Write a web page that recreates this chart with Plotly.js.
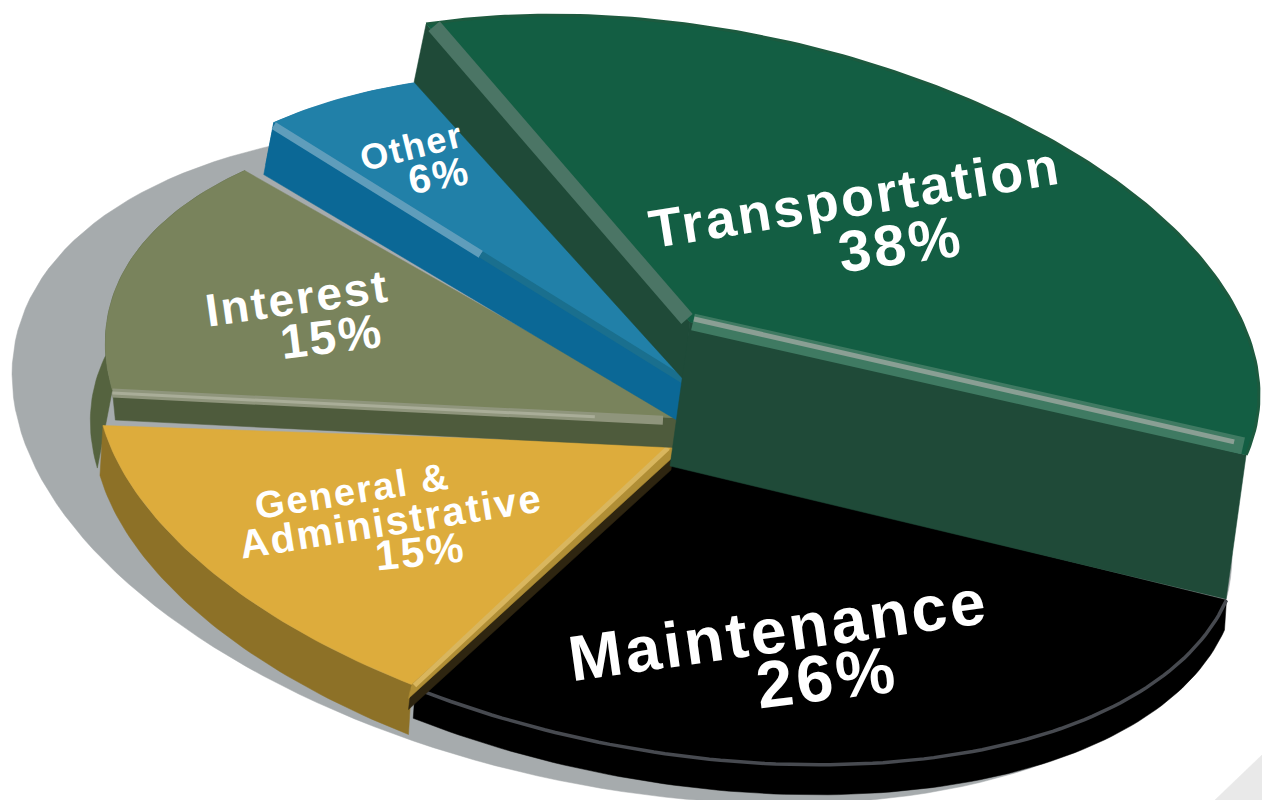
<!DOCTYPE html>
<html><head><meta charset="utf-8">
<script src="https://cdn.plot.ly/plotly-3.0.1.min.js"></script>
<style>html,body{margin:0;padding:0;background:#fff}.annotation-text{letter-spacing:.05em}</style></head>
<body><div id="chart" style="width:1262px;height:800px"></div>
<script>
// ---- data ----
const categories = ["Transportation","Maintenance","General & Administrative","Interest","Other"];
const values = [38,26,15,15,6];
// ---- view of the tilted disc ----
const center=[668,402], axisA=[558,80], axisB=[0,289];
const persK=1.12, persDir=62, startAngle=240.3;
// per slice: explode offset, apex position relative to the exploded centre, rim scale
const explode=[[33,-87],[-3,54],[-14,57],[2,22],[26,-29]];
const apexNudge=[[-11,7],[0,6],[20,-14],[10,-6],[-6,7]];
const rimScale=[1,1.03,1,1.012,1];
const rad=Math.PI/180;
function warp(phi){
  const x=(phi-persDir)*rad/2, n=Math.round(x/Math.PI);
  return persDir+2*(Math.atan(persK*Math.tan(x-n*Math.PI))+n*Math.PI)/rad;
}
function rim(phi,e,k){
  const t=warp(phi)*rad, c=Math.cos(t)*k, s=Math.sin(t)*k;
  return [center[0]+e[0]+axisA[0]*c+axisB[0]*s, center[1]+e[1]+axisA[1]*c+axisB[1]*s];
}
const total=values.reduce((a,b)=>a+b,0);
let acc=startAngle;
const slices=values.map((v,i)=>{
  const a0=acc,a1=acc+v/total*360; acc=a1;
  const arc=[]; for(let p=a0;p<a1;p+=1)arc.push(rim(p,explode[i],rimScale[i])); arc.push(rim(a1,explode[i],rimScale[i]));
  const apex=[center[0]+explode[i][0]+apexNudge[i][0],center[1]+explode[i][1]+apexNudge[i][1]];
  return {arc,apex,first:arc[0],last:arc[arc.length-1]};
});
const [T,M,G,I,O]=slices;
const shift=(pts,h)=>pts.map(p=>[p[0]+h[0],p[1]+h[1]]);
const mix=(a,b,f)=>[a[0]*(1-f)+b[0]*f,a[1]*(1-f)+b[1]*f];
const traces=[];
function poly(pts,color,name){
  traces.push({type:"scatter",mode:"lines",x:pts.map(p=>p[0]).concat(pts[0][0]),y:pts.map(p=>p[1]).concat(pts[0][1]),
    fill:"toself",fillcolor:color,line:{color:color,width:0.5},hoverinfo:"skip",showlegend:false,name:name||""});
}
function line(pts,color,w){
  traces.push({type:"scatter",mode:"lines",x:pts.map(p=>p[0]),y:pts.map(p=>p[1]),
    line:{color:color,width:w},hoverinfo:"skip",showlegend:false});
}
const band=(s,end,h,h2)=>{const a=s.apex,b=end,k=h2||h;return [a,b,[b[0]+k[0],b[1]+k[1]],[a[0]+h[0],a[1]+h[1]]];};
const rimWall=(s,h)=>s.arc.concat(shift(s.arc,h).reverse());
// cast shadow
const shadow=[];for(let t=0;t<=360;t+=2){const c=Math.cos(t*rad),s=Math.sin(t*rad);
  shadow.push([622+610*c,465+1.13*(80*c+289*s)]);}
poly(shadow,"#a6abad","shadow");
poly([[1215,800],[1262,755],[1262,800]],"#e9e9e9","corner");
// Maintenance
poly(rimWall(M,[-2,30]),"#000000",categories[1]);
poly([M.apex].concat(M.arc),"#000000",categories[1]);
line(M.arc,"#474a50",3.5);
// Interest rim (behind General)
poly(rimWall(I,[-15,78]),"#55633f");
// General & Administrative
poly(rimWall(G,[-3,50]),"#8d7127");
poly(band(G,G.first,[-3,25]),"#2e2510");
poly(band(G,G.first,[-3,14]),"#b08e35");
poly([G.apex].concat(G.arc),"#ddac3c",categories[2]);
line([[G.apex[0]-6,G.apex[1]+3],[G.first[0]+3,G.first[1]+1]],"#d9b65e",5);
// Interest
poly(band(I,I.first,[3,30]),"#4e5b3c");
poly([I.apex].concat(I.arc),"#79835c",categories[3]);
line(shift([I.first,mix(I.first,I.apex,0.97)],[0,3]),"#8f957c",9);
line(shift([I.first,mix(I.first,I.apex,0.85)],[0,3]),"#a9ad98",3);
// Other
poly(rimWall(O,[-8,42]),"#0b6896");
poly(band(O,O.first,[-8,42],[-10,52]),"#0b6896");
poly([O.apex].concat(O.arc),"#2180a8",categories[4]);
line(shift([O.first,mix(O.first,O.apex,0.5)],[0,3]),"#5f9dbb",8);
line(shift([mix(O.first,O.apex,0.5),O.apex],[0,3]),"#1a6f8e",7);
// Transportation walls
poly(band(T,T.first,[-6,58],[-12,58]),"#1f4a38");
poly(band(T,T.last,[-20,144]),"#1f4a38");
poly([T.apex].concat(T.arc),"#135e43",categories[0]);
line(T.arc,"#1d5a3f",3);
line([[T.apex[0]-3,T.apex[1]-3],[T.first[0]+8,T.first[1]+2]],"#4b7565",15);
line([[T.apex[0]+3,T.apex[1]],[T.last[0]-3,T.last[1]-9]],"#3f7a62",17);
line([[T.apex[0]+4,T.apex[1]-3],[T.last[0]-12,T.last[1]-13]],"#8a9f94",5);
// ---- labels ----
const pct=values.map(v=>v+"%");
const labels=[
 ["Transportation",855,197,-9,54],[pct[0],900,243,-8,58],
 ["Maintenance",778,630,-8,64],[pct[1],827,677,-7,66],
 ["General &",352,491,-9,38],["Administrative",391,521,-9,40],[pct[2],420,551,-6,42],
 ["Interest",297,298,-8,46],[pct[3],331,336,-7,48],
 ["Other",411,146,-14,36],[pct[4],439,175,-10,40]
];
const annotations=labels.map(l=>({x:l[1],y:l[2],xref:"x",yref:"y",text:"<b>"+l[0].replace("&","&amp;")+"</b>",textangle:l[3],
  showarrow:false,xanchor:"center",yanchor:"middle",font:{family:"Liberation Sans, Arial, sans-serif",size:l[4],color:"#ffffff"}}));
Plotly.newPlot("chart",traces,{
  width:1262,height:800,margin:{l:0,r:0,t:0,b:0},paper_bgcolor:"#fff",plot_bgcolor:"#fff",showlegend:false,
  xaxis:{range:[0,1262],visible:false,fixedrange:true},
  yaxis:{range:[800,0],visible:false,fixedrange:true},
  annotations
},{displayModeBar:false,staticPlot:true});
</script></body></html>
